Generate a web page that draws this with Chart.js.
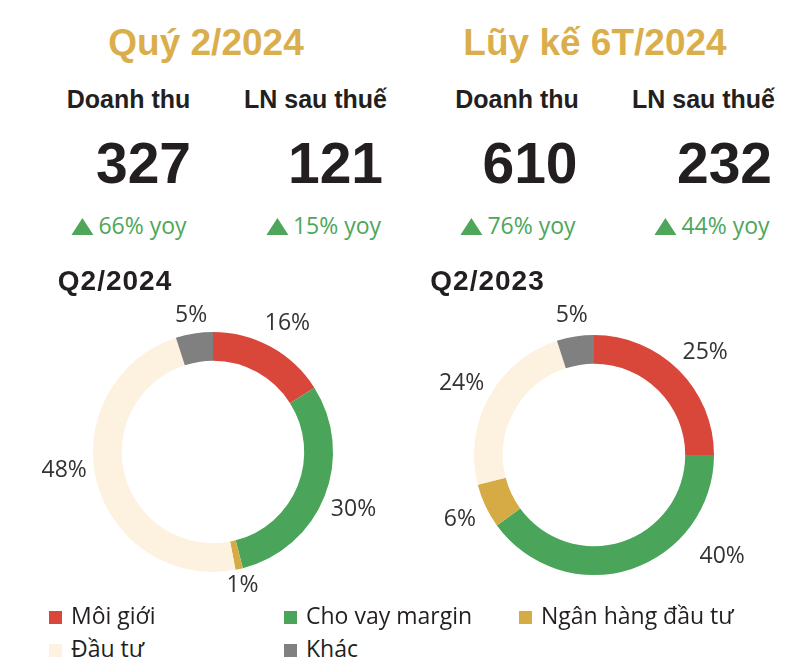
<!DOCTYPE html>
<html>
<head>
<meta charset="utf-8">
<script src="https://cdn.jsdelivr.net/npm/chart.js@4.4.1/dist/chart.umd.min.js"></script>
<style>
html,body{margin:0;padding:0;background:#fff;}
#page{position:relative;width:808px;height:672px;overflow:hidden;font-family:"Open Sans",sans-serif;color:#231f20;}
.t{position:absolute;white-space:nowrap;line-height:1;transform:translateX(-50%);}
.title{font-family:"Liberation Sans",Arial,sans-serif;font-weight:bold;font-size:37px;color:#dbae4c;}
.head{font-family:"Liberation Sans",Arial,sans-serif;font-weight:bold;font-size:25px;color:#231f20;}
.num{font-family:"Liberation Sans",Arial,sans-serif;font-weight:bold;font-size:57px;color:#231f20;}
.yoy{font-family:"Open Sans",sans-serif;font-size:23px;color:#4ea65a;display:flex;align-items:center;}
.tri{display:inline-block;width:0;height:0;border-left:11px solid transparent;border-right:11px solid transparent;border-bottom:17px solid #4ea65a;margin-right:5px;margin-top:1px;}
.sub{font-family:"Liberation Sans",Arial,sans-serif;font-weight:bold;font-size:28px;letter-spacing:1px;color:#231f20;}
canvas{position:absolute;}
.lg{position:absolute;white-space:nowrap;line-height:1;font-family:"Open Sans",sans-serif;font-size:23px;color:#231f20;}
.sq{position:absolute;width:13px;height:13px;}
</style>
</head>
<body>
<div id="page">
  <canvas id="c1" width="404" height="320" style="left:0;top:290px;width:404px;height:320px;"></canvas>
  <canvas id="c2" width="404" height="320" style="left:404px;top:290px;width:404px;height:320px;"></canvas>
</div>
<script>
// ---- data ----
const periods = ['Quý 2/2024', 'Lũy kế 6T/2024'];
const metricLabels = ['Doanh thu', 'LN sau thuế', 'Doanh thu', 'LN sau thuế'];
const metricValues = [327, 121, 610, 232];
const yoyGrowth = [66, 15, 76, 44];
const pieTitles = ['Q2/2024', 'Q2/2023'];
const categories = ['Môi giới', 'Cho vay margin', 'Ngân hàng đầu tư', 'Đầu tư', 'Khác'];
const share2024 = [16, 30, 1, 48, 5];
const share2023 = [25, 40, 6, 24, 5];
const segmentColors = ['#d9473b', '#4aa45a', '#d6ab45', '#fdf1e0', '#808080'];

// ---- layout (positions only) ----
const page = document.getElementById('page');
function addText(cls, text, cx, top) {
  const d = document.createElement('div');
  d.className = 't ' + cls;
  d.textContent = text;
  d.style.left = cx + 'px';
  d.style.top = top + 'px';
  page.appendChild(d);
  return d;
}
const titleX = [206, 595];
periods.forEach((p, i) => addText('title', p, titleX[i], 24));
const headX = [128.5, 315.5, 517, 703.5];
metricLabels.forEach((m, i) => addText('head', m, headX[i], 87));
const numX = [143.5, 335.5, 530, 724.5];
metricValues.forEach((v, i) => addText('num', String(v), numX[i], 135));
const yoyX = [129, 323.5, 518, 712];
yoyGrowth.forEach((g, i) => {
  const d = document.createElement('div');
  d.className = 't yoy';
  d.style.left = yoyX[i] + 'px';
  d.style.top = '214px';
  const tri = document.createElement('span');
  tri.className = 'tri';
  const s = document.createElement('span');
  s.textContent = g + '% yoy';
  d.appendChild(tri); d.appendChild(s);
  page.appendChild(d);
});
const subX = [115, 487.5];
pieTitles.forEach((p, i) => addText('sub', p, subX[i], 267));

// legend (HTML, built from categories/colors)
const lgSqX = [49, 284, 519];
const lgRowY = [617, 650];
categories.forEach((c, i) => {
  const col = i % 3, row = Math.floor(i / 3);
  const sq = document.createElement('div');
  sq.className = 'sq';
  sq.style.background = segmentColors[i];
  sq.style.left = lgSqX[col] + 'px';
  sq.style.top = (lgRowY[row] - 6.5) + 'px';
  page.appendChild(sq);
  const t = document.createElement('div');
  t.className = 'lg';
  t.textContent = c;
  t.style.left = (lgSqX[col] + 22) + 'px';
  t.style.top = (lgRowY[row] - 13) + 'px';
  page.appendChild(t);
});

// ---- outside percentage labels plugin ----
const outsideLabels = {
  id: 'outsideLabels',
  afterDatasetsDraw(chart, args, opts) {
    const ctx = chart.ctx;
    const meta = chart.getDatasetMeta(0);
    const data = chart.data.datasets[0].data;
    ctx.save();
    ctx.font = opts.font;
    ctx.fillStyle = opts.color;
    ctx.textAlign = 'center';
    ctx.textBaseline = 'alphabetic';
    meta.data.forEach((arc, i) => {
      const p = arc.getProps(['x', 'y', 'startAngle', 'endAngle', 'outerRadius'], true);
      const shift = ((opts.angleShift && opts.angleShift[i]) || 0) * Math.PI / 180;
      const extra = (opts.radiusShift && opts.radiusShift[i]) || 0;
      const a = (p.startAngle + p.endAngle) / 2 + shift;
      const txt = data[i] + '%';
      const w = ctx.measureText(txt).width;
      const h = 22;
      const r = p.outerRadius + opts.pad + extra + (w / 2) * Math.abs(Math.cos(a)) + (h / 2) * Math.abs(Math.sin(a));
      ctx.fillText(txt, p.x + Math.cos(a) * r, p.y + Math.sin(a) * r + 8);
    });
    ctx.restore();
  }
};

function makeDonut(id, values, padding, angleShift, radiusShift) {
  return new Chart(document.getElementById(id), {
    type: 'doughnut',
    data: {
      labels: categories,
      datasets: [{
        data: values,
        backgroundColor: segmentColors,
        borderWidth: 0,
        hoverOffset: 0
      }]
    },
    options: {
      responsive: false,
      animation: false,
      events: [],
      cutout: '76%',
      layout: { padding: padding },
      plugins: {
        legend: { display: false },
        tooltip: { enabled: false },
        outsideLabels: {
          font: '23px "Open Sans", sans-serif',
          color: '#333333',
          pad: 6,
          angleShift: angleShift,
          radiusShift: radiusShift
        }
      }
    },
    plugins: [outsideLabels]
  });
}

makeDonut('c1', share2024, { left: 93, right: 71, top: 42, bottom: 38 }, [1, 0, 0, 8, 0], [3, 0, -5, 0, 0]);
makeDonut('c2', share2023, { left: 70, right: 94, top: 45, bottom: 35 }, [2, -34, 0, 0, 0], [2, 12, 3, 0, 3]);
</script>
</body>
</html>
